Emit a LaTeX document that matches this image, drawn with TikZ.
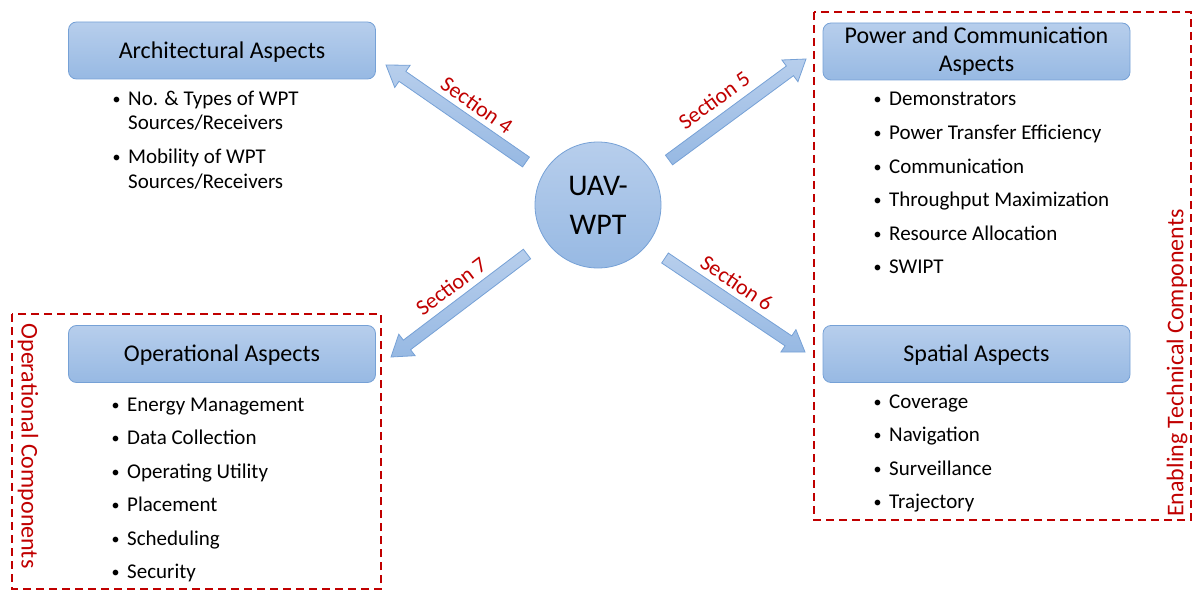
\documentclass[tikz,border=0pt]{standalone}
\usepackage{fontspec}
\setmainfont{Carlito}
\usetikzlibrary{calc}

\definecolor{boxtop}{RGB}{183,206,236}
\definecolor{boxbot}{RGB}{151,185,227}
\definecolor{boxline}{RGB}{118,161,214}
\definecolor{secred}{RGB}{192,0,0}

\tikzset{
  aspectbox/.style={draw=boxline, line width=0.8pt, rounded corners=8pt,
    top color=boxtop, bottom color=boxbot, minimum width=307pt,
    minimum height=57pt, inner sep=0pt, align=center,
    font=\fontsize{24}{28}\selectfont},
  oneline/.style={text height=15.5pt, text depth=0pt},
  hubnode/.style={circle, draw=boxline, line width=0.8pt,
    top color=boxtop, bottom color=boxbot, minimum size=126pt,
    inner sep=0pt, align=center, font=\fontsize{30}{39}\selectfont},
  listitem/.style={anchor=base west, inner sep=0pt,
    font=\fontsize{21}{24}\selectfont},
  seclabel/.style={text=secred, inner sep=0pt,
    font=\fontsize{22}{26}\selectfont},
  zoneframe/.style={draw=secred, line width=1.6pt, dash pattern=on 8pt off 5pt},
  zonelabel/.style={text=secred, inner sep=0pt,
    font=\fontsize{24}{28}\selectfont},
  blockarrow/.style={draw=boxline, line width=0.8pt,
    top color=boxtop, bottom color=boxbot},
}

% bullet hanging to the left of an item's text
\newcommand\bul{\llap{\raisebox{1pt}{\fontsize{16}{16}\selectfont •}\hspace{7.5pt}}}

% block arrow from a tail coordinate (#1) to a tip coordinate (#2)
\newcommand\uavarrow[2]{%
  \coordinate (#2-neck) at ($(#2)!20pt!(#1)$);
  \draw[blockarrow]
    ($(#1)!6pt!90:(#2)$) -- ($(#2-neck)!6pt!90:(#2)$)
    -- ($(#2-neck)!13.5pt!90:(#2)$) -- (#2)
    -- ($(#2-neck)!13.5pt!-90:(#2)$) -- ($(#2-neck)!6pt!-90:(#2)$)
    -- ($(#1)!6pt!-90:(#2)$) -- cycle;
}

\begin{document}
\begin{tikzpicture}[x=1pt, y=-1pt]
  \useasboundingbox (0,0) rectangle (1197,591);

  % grouping frames
  \draw[zoneframe] (814,12) rectangle (1191,520);
  \draw[zoneframe] (12,314) rectangle (381,589);
  \node[zonelabel, rotate=90] (enablbl) at (1177,363) {Enabling Technical Components};
  \node[zonelabel, rotate=-90] (oplbl) at (28,446) {Operational Components};

  % centre
  \node[hubnode] (hub) at (598,205) {UAV-\\WPT};

  % topic boxes
  \node[aspectbox, oneline] (arch) at (222,50.5) {Architectural Aspects};
  \node[aspectbox] (power) at (976.5,51.5) {Power and Communication\\Aspects};
  \node[aspectbox, oneline] (oper) at (222,354) {Operational Aspects};
  \node[aspectbox, oneline] (spat) at (976.5,354) {Spatial Aspects};

  % arrow ends
  \coordinate (a4t) at (526,162);  \coordinate (a4h) at (386,65);
  \coordinate (a5t) at (669,160);  \coordinate (a5h) at (806,59);
  \coordinate (a6t) at (665,258);  \coordinate (a6h) at (805,352);
  \coordinate (a7t) at (527,254);  \coordinate (a7h) at (391,357);
  \uavarrow{a4t}{a4h}
  \uavarrow{a5t}{a5h}
  \uavarrow{a6t}{a6h}
  \uavarrow{a7t}{a7h}

  \node[seclabel, rotate=-35] (s4) at (477,105) {Section 4};
  \node[seclabel, rotate=36]  (s5) at (714,100) {Section 5};
  \node[seclabel, rotate=-34] (s6) at (737,283) {Section 6};
  \node[seclabel, rotate=37]  (s7) at (451,286) {Section 7};

  % architectural items
  \node[listitem] (ar1) at (128,106) {\bul No. \& Types of WPT};
  \node[listitem] (ar1b) at (128,130) {Sources/Receivers};
  \node[listitem] (ar2) at (128,164) {\bul Mobility of WPT};
  \node[listitem] (ar2b) at (128,188) {Sources/Receivers};

  % power and communication items
  \node[listitem] (pw1) at (889,106) {\bul Demonstrators};
  \node[listitem] (pw2) at (889,139.5) {\bul Power Transfer Efficiency};
  \node[listitem] (pw3) at (889,173) {\bul Communication};
  \node[listitem] (pw4) at (889,206.5) {\bul Throughput Maximization};
  \node[listitem] (pw5) at (889,240) {\bul Resource Allocation};
  \node[listitem] (pw6) at (889,273.5) {\bul SWIPT};

  % spatial items
  \node[listitem] (sp1) at (889,408) {\bul Coverage};
  \node[listitem] (sp2) at (889,441.5) {\bul Navigation};
  \node[listitem] (sp3) at (889,475) {\bul Surveillance};
  \node[listitem] (sp4) at (889,508.5) {\bul Trajectory};

  % operational items
  \node[listitem] (op1) at (127,411) {\bul Energy Management};
  \node[listitem] (op2) at (127,444.5) {\bul Data Collection};
  \node[listitem] (op3) at (127,478) {\bul Operating Utility};
  \node[listitem] (op4) at (127,511.5) {\bul Placement};
  \node[listitem] (op5) at (127,545) {\bul Scheduling};
  \node[listitem] (op6) at (127,578.5) {\bul Security};
\end{tikzpicture}
\end{document}
